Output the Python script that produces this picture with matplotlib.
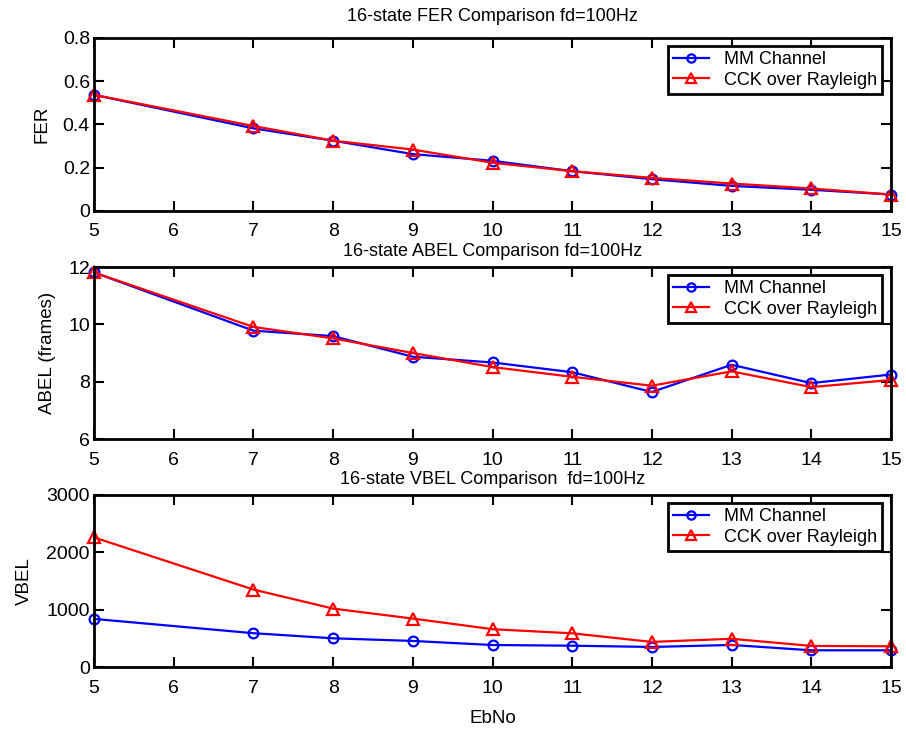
import numpy as np
import matplotlib
matplotlib.use('Agg')
import matplotlib.pyplot as plt

plt.rcParams['font.family'] = ['Liberation Sans', 'DejaVu Sans']

# EbNo points (no measurement at 6)
ebno = [5, 7, 8, 9, 10, 11, 12, 13, 14, 15]

# FER
fer_mm = [0.537, 0.382, 0.325, 0.263, 0.232, 0.184, 0.147, 0.116, 0.098, 0.076]
fer_cck = [0.537, 0.393, 0.325, 0.284, 0.223, 0.184, 0.153, 0.127, 0.104, 0.076]

# ABEL (frames)
abel_mm = [11.81, 9.78, 9.59, 8.87, 8.67, 8.33, 7.64, 8.59, 7.95, 8.25]
abel_cck = [11.81, 9.91, 9.51, 9.00, 8.51, 8.17, 7.86, 8.36, 7.81, 8.06]

# VBEL
vbel_mm = [839, 590, 501, 455, 384, 372, 350, 385, 292, 292]
vbel_cck = [2260, 1351, 1019, 845, 660, 588, 438, 493, 368, 362]

titles = ['16-state FER Comparison fd=100Hz',
          '16-state ABEL Comparison fd=100Hz',
          '16-state VBEL Comparison  fd=100Hz']
ylabels = ['FER', 'ABEL (frames)', 'VBEL']
yticks = [[0, 0.2, 0.4, 0.6, 0.8], [6, 8, 10, 12], [0, 1000, 2000, 3000]]
yticklabels = [['0', '0.2', '0.4', '0.6', '0.8'], ['6', '8', '10', '12'],
               ['0', '1000', '2000', '3000']]
series = [(fer_mm, fer_cck), (abel_mm, abel_cck), (vbel_mm, vbel_cck)]

fig = plt.figure(figsize=(9.06, 7.29), dpi=100)

# axes boxes [left, bottom, width, height] in figure fractions
boxes = [[0.1038, 0.7106, 0.8796, 0.2373],
         [0.1038, 0.3978, 0.8796, 0.2359],
         [0.1038, 0.0850, 0.8796, 0.2360]]
title_pads = [12, 8, 8]
ylabel_x = [-0.0655, -0.059, -0.0878]

for i in range(3):
    ax = fig.add_axes(boxes[i])
    mm, cck = series[i]
    ax.plot(ebno, mm, color='blue', lw=1.6, marker='o', ms=7,
            mfc='none', mec='blue', mew=1.6, label='MM Channel', clip_on=False)
    ax.plot(ebno, cck, color='red', lw=1.6, marker='^', ms=8,
            mfc='none', mec='red', mew=1.6, label='CCK over Rayleigh', clip_on=False)
    ax.set_xlim(5, 15)
    ax.set_ylim(yticks[i][0], yticks[i][-1])
    ax.set_xticks(range(5, 16))
    ax.set_yticks(yticks[i])
    ax.set_yticklabels(yticklabels[i])
    ax.tick_params(direction='in', top=True, right=True, length=7, width=1.5,
                   labelsize=14)
    ax.tick_params(axis='x', pad=9)
    ax.tick_params(axis='y', pad=3)
    for sp in ax.spines.values():
        sp.set_linewidth(2)
    ax.set_title(titles[i], fontsize=13, pad=title_pads[i])
    ax.set_ylabel(ylabels[i], fontsize=13.5, va='center')
    ax.yaxis.set_label_coords(ylabel_x[i], 0.5)
    leg = ax.legend(loc='upper right', bbox_to_anchor=(0.989, 0.955),
                    borderaxespad=0, fancybox=False, fontsize=13,
                    handlelength=2.0, borderpad=0.3, labelspacing=0.2,
                    handletextpad=0.8, framealpha=1, markerscale=0.85)
    leg.get_frame().set_edgecolor('black')
    leg.get_frame().set_linewidth(2)
    if i == 2:
        ax.set_xlabel('EbNo', fontsize=13.5, labelpad=10)

fig.savefig('out.png', dpi=100)
